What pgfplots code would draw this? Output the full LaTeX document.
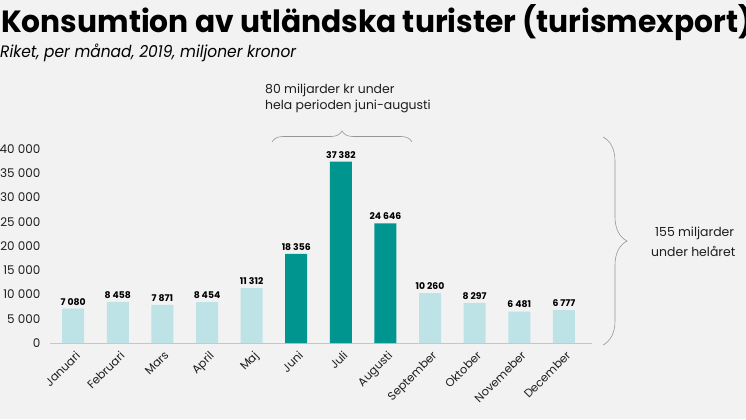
\documentclass[border=0pt]{standalone}
\usepackage{fontspec}
\setmainfont{Poppins}
\usepackage{graphicx}
\usepackage{pgfplots}
\pgfplotsset{compat=1.18}
\usetikzlibrary{decorations.pathreplacing}
\definecolor{bg}{RGB}{242,242,242}
\definecolor{lightbar}{RGB}{189,227,230}
\definecolor{darkbar}{RGB}{0,150,143}
\definecolor{brc}{RGB}{150,150,150}
\definecolor{txt}{RGB}{30,30,30}
\begin{document}
\begin{tikzpicture}[x=1bp,y=1bp]
\useasboundingbox (0,0) rectangle (746,419);
\clip (0,0) rectangle (746,419);
\fill[bg] (0,0) rectangle (746,419);
\node[anchor=base west,inner sep=0] at (1,387) {\resizebox{751bp}{28bp}{\bfseries Konsumtion av utländska turister (turismexport)}};
\node[anchor=base west,inner sep=0] at (0,362) {\resizebox{296bp}{13.5bp}{\itshape Riket, per månad, 2019, miljoner kronor}};
\begin{axis}[
  at={(50bp,76bp)}, anchor=south west, scale only axis,
  width=542bp, height=194bp,
  xmin=-0.52, xmax=11.63, ymin=0, ymax=40000,
  axis x line=bottom, axis y line=left,
  x axis line style={-, draw=gray!45, line width=0.8pt},
  y axis line style={draw=none},
  tick style={draw=none},
  ytick={0,5000,...,40000},
  xtick={0,...,11},
  xticklabels={Januari,Februari,Mars,April,Maj,Juni,Juli,Augusti,September,Oktober,Novemeber,December},
  xticklabel style={rotate=45, anchor=north east, font=\fontsize{11.5}{13}\selectfont, text=txt, inner sep=1pt, yshift=-2bp},
  yticklabel style={font=\fontsize{12}{14}\selectfont, text=txt, xshift=-4bp},
  /pgf/number format/assume math mode=true,
  /pgf/number format/fixed,
  /pgf/number format/1000 sep={\ },
  scaled y ticks=false,
  ybar, bar width=22bp, bar shift=0pt,
  clip=false,
  nodes near coords,
  nodes near coords style={font=\bfseries\fontsize{9.3}{10}\selectfont, text=black},
]
\addplot[fill=lightbar, draw=none] coordinates {(0,7080)(1,8458)(2,7871)(3,8454)(4,11312)(8,10260)(9,8297)(10,6481)(11,6777)};
\addplot[fill=darkbar, draw=none] coordinates {(5,18356)(6,37382)(7,24646)};
\end{axis}
\draw[brc, line width=0.6pt, decorate, decoration={brace, amplitude=11bp}] (272,277) -- (412,277);
\draw[brc, line width=0.6pt, decorate, decoration={brace, amplitude=24bp}] (603,282) -- (603,74);
\node[anchor=base west,inner sep=0,font=\fontsize{12.5}{15}\selectfont, text=txt] at (265,326) {80 miljarder kr under};
\node[anchor=base west,inner sep=0,font=\fontsize{12.5}{15}\selectfont, text=txt] at (265,310) {hela perioden juni-augusti};
\node[anchor=base west,inner sep=0,font=\fontsize{12.5}{15}\selectfont, text=txt] at (655,182.5) {155 miljarder};
\node[anchor=base west,inner sep=0,font=\fontsize{12.5}{15}\selectfont, text=txt] at (651,163) {under helåret};
\end{tikzpicture}
\end{document}
